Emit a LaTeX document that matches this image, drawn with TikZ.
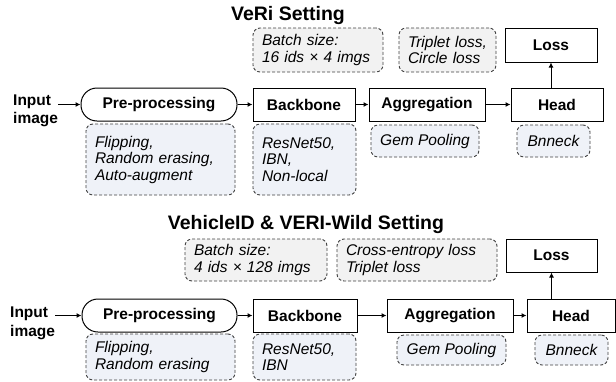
\documentclass[tikz,border=0pt]{standalone}
\usepackage{fontspec}
\setmainfont{Liberation Sans}
\usetikzlibrary{arrows.meta}

\begin{document}
\begin{tikzpicture}[x=1pt, y=-1pt,
	every node/.style={font=\fontsize{15.5}{16.5}\selectfont},
	stage/.style={draw=black, line width=1pt, font=\fontsize{15.5}{16.5}\selectfont\bfseries, minimum height=33pt, inner sep=0pt},
	pill/.style={stage, rounded corners=16pt},
	inputtext/.style={font=\fontsize{15.5}{18.5}\selectfont\bfseries, align=left, anchor=west, inner sep=0pt},
	hint/.style={draw=black!75, dash pattern=on 3pt off 2pt, line width=0.9pt, rounded corners=7pt, fill=black!5, font=\fontsize{15.5}{16.5}\selectfont\itshape, align=left, inner xsep=9pt, inner ysep=0pt},
	hintb/.style={hint, fill={rgb,255:red,239;green,242;blue,248}},
	heading/.style={font=\fontsize{19.5}{22}\selectfont\bfseries},
	link/.style={-{Latex[length=5pt,width=5pt]}, line width=1pt}]
	\useasboundingbox (0,0) rectangle (616,381);
	% VeRi setting
	\node (TitleA)		[heading]									at (288,15)		{VeRi Setting};
	\node (BatchA)		[hint, text width=112pt, minimum height=44pt]	at (318,50)		{Batch size:\\16 ids × 4 imgs};
	\node (LossFnA)		[hint, text width=79pt, minimum height=44pt]	at (447.5,50)	{Triplet loss,\\Circle loss};
	\node (LossA)		[stage, minimum width=92pt, minimum height=34pt]	at (551,45)		{Loss};
	\node (InputA)		[inputtext]									at (13,111)		{Input\\image};
	\node (PreA)		[pill, minimum width=156pt]					at (159,104.5)	{Pre-processing};
	\node (BackboneA)	[stage, minimum width=102pt]				at (304,104.5)	{Backbone};
	\node (AggA)		[stage, minimum width=116pt]				at (427,104.5)	{Aggregation};
	\node (HeadA)		[stage, minimum width=92pt]					at (557,104.5)	{Head};
	\node (AugA)		[hintb, text width=131pt, minimum height=71pt]	at (160.5,159.5)	{Flipping,\\Random erasing,\\Auto-augment};
	\node (NetA)		[hintb, text width=85pt, minimum height=71pt]	at (304.5,159.5)	{ResNet50,\\IBN,\\Non-local};
	\node (PoolA)		[hintb, minimum width=108pt, minimum height=32pt]	at (425,141)	{Gem Pooling};
	\node (NeckA)		[hintb, minimum width=73pt, minimum height=32pt]	at (553.5,141)	{Bnneck};
	\draw[link]	(InputA.east |- PreA) -- (PreA.west);
	\draw[link]	(PreA) -- (BackboneA);
	\draw[link]	(BackboneA) -- (AggA);
	\draw[link]	(AggA) -- (HeadA);
	\draw[link]	(LossA.south |- HeadA.north) -- (LossA.south);
	% VehicleID & VERI-Wild setting
	\node (TitleB)		[heading]									at (306,224)	{VehicleID \& VERI-Wild Setting};
	\node (BatchB)		[hint, text width=124pt, minimum height=42pt]	at (256,260)	{Batch size:\\4 ids × 128 imgs};
	\node (LossFnB)		[hint, text width=142pt, minimum height=42pt]	at (417,260)	{Cross-entropy loss\\Triplet loss};
	\node (LossB)		[stage, minimum width=91pt]					at (551.5,255.5)	{Loss};
	\node (InputB)		[inputtext]									at (10,323.5)	{Input\\image};
	\node (PreB)		[pill, minimum width=155pt]					at (159.5,315.5)	{Pre-processing};
	\node (BackboneB)	[stage, minimum width=104pt]				at (305,315.5)	{Backbone};
	\node (AggB)		[stage, minimum width=126pt]				at (450,315.5)	{Aggregation};
	\node (HeadB)		[stage, minimum width=88pt]					at (571,315.5)	{Head};
	\node (AugB)		[hintb, text width=131pt, minimum height=46pt]	at (160.5,357)	{Flipping,\\Random erasing};
	\node (NetB)		[hintb, text width=85pt, minimum height=46pt]	at (304.5,357)	{ResNet50,\\IBN};
	\node (PoolB)		[hintb, minimum width=109pt, minimum height=30pt]	at (451.5,350)	{Gem Pooling};
	\node (NeckB)		[hintb, minimum width=73pt, minimum height=30pt]	at (571.5,350)	{Bnneck};
	\draw[link]	(InputB.east |- PreB) -- (PreB.west);
	\draw[link]	(PreB) -- (BackboneB);
	\draw[link]	(BackboneB) -- (AggB);
	\draw[link]	(AggB) -- (HeadB);
	\draw[link]	(LossB.south |- HeadB.north) -- (LossB.south);
\end{tikzpicture}
\end{document}
